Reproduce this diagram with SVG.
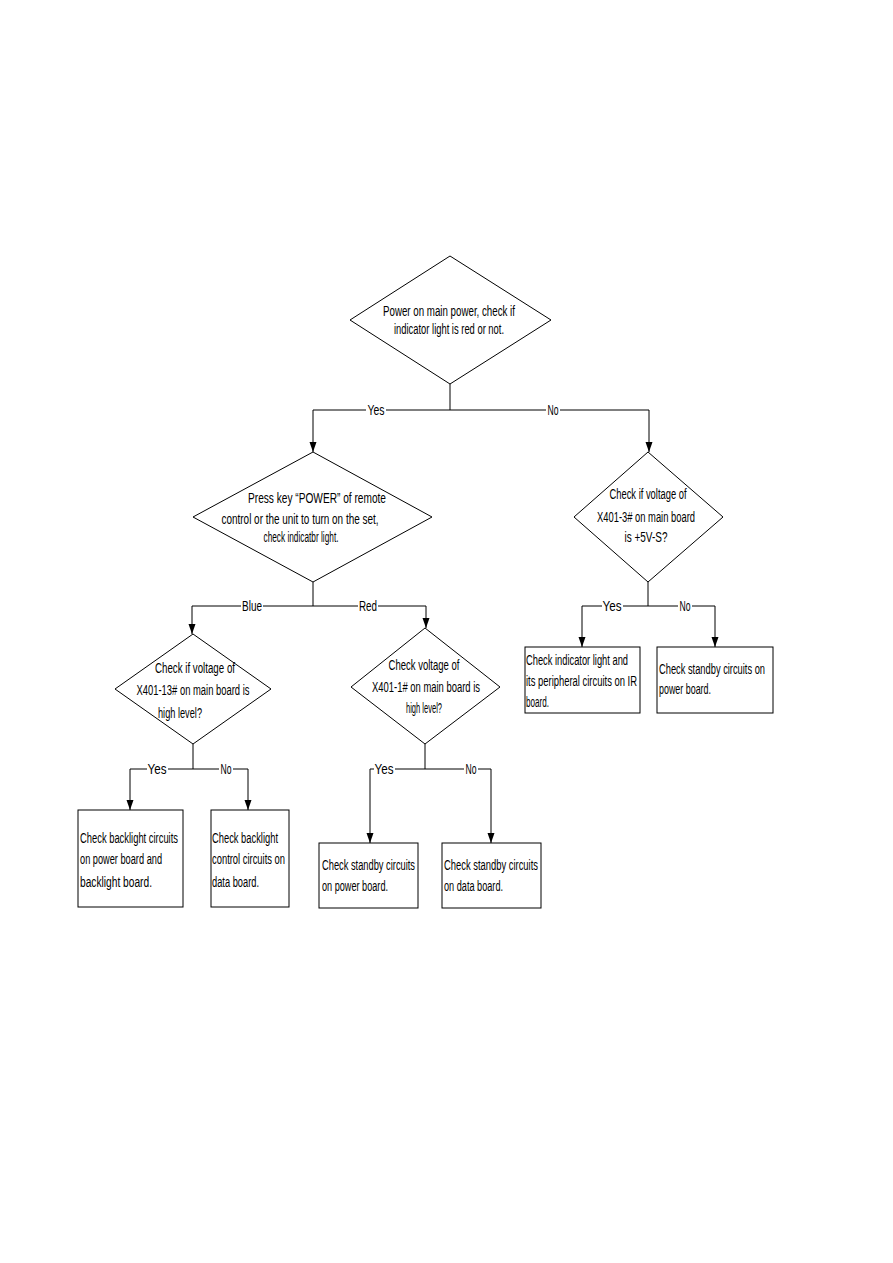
<svg xmlns="http://www.w3.org/2000/svg" width="893" height="1263" viewBox="0 0 893 1263">
<style>
.s{fill:none;stroke:#000;stroke-width:1}
.n{fill:#fff;stroke:#000;stroke-width:1}
text{font-family:"Liberation Sans",Arial,sans-serif;font-size:14px;fill:#000}
.c{text-anchor:middle}
.bg{fill:#fff;stroke:none}
</style>
<defs>
<marker id="ah" markerUnits="userSpaceOnUse" markerWidth="10" markerHeight="8" refX="10" refY="3.5" orient="auto">
<path d="M0,0 L10,3.5 L0,7 z" fill="#000"/>
</marker>
</defs>
<rect width="893" height="1263" fill="#fff"/>
<g id="connectors">
<path class="s" d="M450,384 V410 M313,410 H649"/>
<path class="s" marker-end="url(#ah)" d="M313,410 V452"/>
<path class="s" marker-end="url(#ah)" d="M649,410 V452"/>
<path class="s" d="M313,582 V606 M192,606 H426"/>
<path class="s" marker-end="url(#ah)" d="M192,606 V634"/>
<path class="s" marker-end="url(#ah)" d="M426,606 V628"/>
<path class="s" d="M648,582 V606 M582,606 H715"/>
<path class="s" marker-end="url(#ah)" d="M582,606 V647"/>
<path class="s" marker-end="url(#ah)" d="M715,606 V647"/>
<path class="s" d="M193,744 V769 M130,769 H248"/>
<path class="s" marker-end="url(#ah)" d="M130,769 V810"/>
<path class="s" marker-end="url(#ah)" d="M248,769 V810"/>
<path class="s" d="M425,744 V769 M370,769 H491"/>
<path class="s" marker-end="url(#ah)" d="M370,769 V843"/>
<path class="s" marker-end="url(#ah)" d="M491,769 V843"/>
<rect class="bg" x="366" y="403" width="20" height="14"/><text transform="matrix(0.68 0 0 1 376 415)" class="c" textLength="25" lengthAdjust="spacingAndGlyphs">Yes</text>
<rect class="bg" x="546" y="403" width="14" height="14"/><text transform="matrix(0.68 0 0 1 553 415)" class="c" textLength="16.2" lengthAdjust="spacingAndGlyphs">No</text>
<rect class="bg" x="241" y="599" width="22" height="14"/><text transform="matrix(0.68 0 0 1 252 611)" class="c" textLength="29.4" lengthAdjust="spacingAndGlyphs">Blue</text>
<rect class="bg" x="358" y="599" width="20" height="14"/><text transform="matrix(0.68 0 0 1 368 611)" class="c" textLength="26.5" lengthAdjust="spacingAndGlyphs">Red</text>
<rect class="bg" x="602" y="599" width="21" height="14"/><text transform="matrix(0.68 0 0 1 612 611)" class="c" textLength="27.9" lengthAdjust="spacingAndGlyphs">Yes</text>
<rect class="bg" x="678" y="599" width="14" height="14"/><text transform="matrix(0.68 0 0 1 685 611)" class="c" textLength="16.2" lengthAdjust="spacingAndGlyphs">No</text>
<rect class="bg" x="147" y="762" width="21" height="14"/><text transform="matrix(0.68 0 0 1 157 774)" class="c" textLength="27.9" lengthAdjust="spacingAndGlyphs">Yes</text>
<rect class="bg" x="219" y="762" width="14" height="14"/><text transform="matrix(0.68 0 0 1 226 774)" class="c" textLength="16.2" lengthAdjust="spacingAndGlyphs">No</text>
<rect class="bg" x="374" y="762" width="21" height="14"/><text transform="matrix(0.68 0 0 1 384 774)" class="c" textLength="27.9" lengthAdjust="spacingAndGlyphs">Yes</text>
<rect class="bg" x="464" y="762" width="14" height="14"/><text transform="matrix(0.68 0 0 1 471 774)" class="c" textLength="16.2" lengthAdjust="spacingAndGlyphs">No</text>
</g>
<g id="d1">
<polygon class="n" points="450,256 551,320 450,384 350,320"/>
<text transform="matrix(0.68 0 0 1 449 316)" class="c" textLength="194.1" lengthAdjust="spacingAndGlyphs">Power on main power, check if</text>
<text transform="matrix(0.68 0 0 1 449 334)" class="c" textLength="161.8" lengthAdjust="spacingAndGlyphs">indicator light is red or not.</text>
</g>
<g id="d2">
<polygon class="n" points="313,452 432,517 313,582 193,517"/>
<text transform="matrix(0.68 0 0 1 317 503)" class="c" textLength="202.9" lengthAdjust="spacingAndGlyphs">Press key “POWER” of remote</text>
<text transform="matrix(0.68 0 0 1 300 524)" class="c" textLength="230.9" lengthAdjust="spacingAndGlyphs">control or the unit to turn on the set,</text>
<text transform="matrix(0.68 0 0 1 301 542)" class="c" textLength="110.3" lengthAdjust="spacingAndGlyphs">check indicatbr light.</text>
</g>
<g id="d3">
<polygon class="n" points="648,452 723,517 648,582 574,517"/>
<text transform="matrix(0.68 0 0 1 648 499)" class="c" textLength="113.2" lengthAdjust="spacingAndGlyphs">Check if voltage of</text>
<text transform="matrix(0.68 0 0 1 646 522)" class="c" textLength="144.1" lengthAdjust="spacingAndGlyphs">X401-3# on main board</text>
<text transform="matrix(0.68 0 0 1 646 542)" class="c" textLength="63.2" lengthAdjust="spacingAndGlyphs">is +5V-S?</text>
</g>
<g id="d4">
<polygon class="n" points="193,634 271,689 193,744 115,689"/>
<text transform="matrix(0.68 0 0 1 195 673)" class="c" textLength="117.6" lengthAdjust="spacingAndGlyphs">Check if voltage of</text>
<text transform="matrix(0.68 0 0 1 193 695)" class="c" textLength="166.2" lengthAdjust="spacingAndGlyphs">X401-13# on main board is</text>
<text transform="matrix(0.68 0 0 1 180 718)" class="c" textLength="64.7" lengthAdjust="spacingAndGlyphs">high level?</text>
</g>
<g id="d5">
<polygon class="n" points="425,628 500,687 425,744 351,687"/>
<text transform="matrix(0.68 0 0 1 424 670)" class="c" textLength="104.4" lengthAdjust="spacingAndGlyphs">Check voltage of</text>
<text transform="matrix(0.68 0 0 1 426 692)" class="c" textLength="158.8" lengthAdjust="spacingAndGlyphs">X401-1# on main board is</text>
<text transform="matrix(0.68 0 0 1 424 713)" class="c" textLength="52.9" lengthAdjust="spacingAndGlyphs">high level?</text>
</g>
<g id="b1">
<rect class="n" x="525" y="647" width="115" height="66"/>
<text transform="matrix(0.68 0 0 1 526 665)" textLength="150" lengthAdjust="spacingAndGlyphs">Check indicator light and</text>
<text transform="matrix(0.68 0 0 1 526 686)" textLength="163.2" lengthAdjust="spacingAndGlyphs">its peripheral circuits on IR</text>
<text transform="matrix(0.68 0 0 1 526 707)" textLength="33.8" lengthAdjust="spacingAndGlyphs">board.</text>
</g>
<g id="b2">
<rect class="n" x="657" y="647" width="116" height="66"/>
<text transform="matrix(0.68 0 0 1 659 674)" textLength="155.9" lengthAdjust="spacingAndGlyphs">Check standby circuits on</text>
<text transform="matrix(0.68 0 0 1 659 694)" textLength="76.5" lengthAdjust="spacingAndGlyphs">power board.</text>
</g>
<g id="b3">
<rect class="n" x="78" y="810" width="105" height="97"/>
<text transform="matrix(0.68 0 0 1 80 843)" textLength="144.1" lengthAdjust="spacingAndGlyphs">Check backlight circuits</text>
<text transform="matrix(0.68 0 0 1 80 864)" textLength="120.6" lengthAdjust="spacingAndGlyphs">on power board and</text>
<text transform="matrix(0.68 0 0 1 80 887)" textLength="105.9" lengthAdjust="spacingAndGlyphs">backlight board.</text>
</g>
<g id="b4">
<rect class="n" x="211" y="810" width="78" height="97"/>
<text transform="matrix(0.68 0 0 1 212 843)" textLength="97.1" lengthAdjust="spacingAndGlyphs">Check backlight</text>
<text transform="matrix(0.68 0 0 1 212 864)" textLength="107.4" lengthAdjust="spacingAndGlyphs">control circuits on</text>
<text transform="matrix(0.68 0 0 1 212 887)" textLength="69.1" lengthAdjust="spacingAndGlyphs">data board.</text>
</g>
<g id="b5">
<rect class="n" x="319" y="843" width="99" height="65"/>
<text transform="matrix(0.68 0 0 1 322 870)" textLength="136.8" lengthAdjust="spacingAndGlyphs">Check standby circuits</text>
<text transform="matrix(0.68 0 0 1 322 891)" textLength="97.1" lengthAdjust="spacingAndGlyphs">on power board.</text>
</g>
<g id="b6">
<rect class="n" x="442" y="843" width="99" height="65"/>
<text transform="matrix(0.68 0 0 1 444 870)" textLength="138.2" lengthAdjust="spacingAndGlyphs">Check standby circuits</text>
<text transform="matrix(0.68 0 0 1 444 891)" textLength="86.8" lengthAdjust="spacingAndGlyphs">on data board.</text>
</g>
</svg>
